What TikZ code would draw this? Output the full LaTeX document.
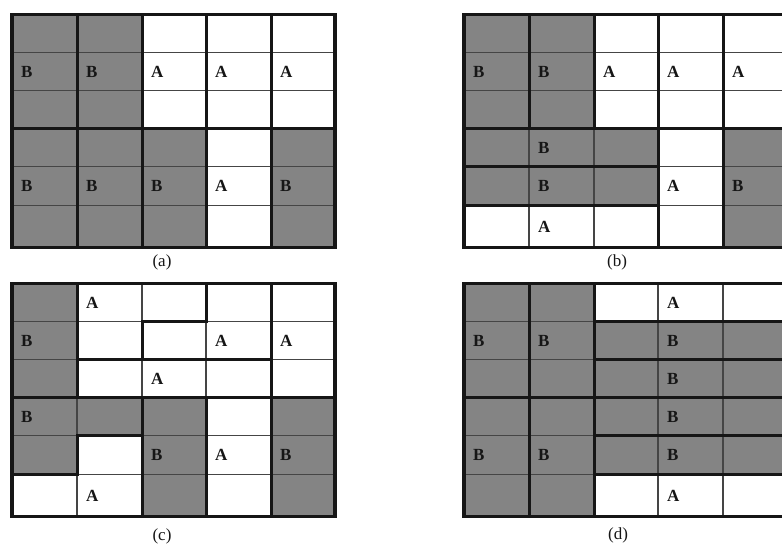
\documentclass[tikz,border=0pt]{standalone}
\usepackage{fontspec}
\setmainfont{Liberation Serif}
\definecolor{cellgray}{RGB}{132,132,132}
\definecolor{ink}{RGB}{22,22,22}
\tikzset{
  thinline/.style={draw=ink!80, line width=1.3pt},
  thickline/.style={draw=ink, line width=3pt, line cap=rect},
  border/.style={draw=ink, line width=3.5pt},
  lab/.style={anchor=west, font=\fontsize{17}{17}\selectfont\bfseries, inner sep=0pt, text=ink},
  captext/.style={font=\fontsize{17}{17}\selectfont, inner sep=0pt, text=ink},
}
\def\colx{{0,65,130,194,259,323}}
\def\rowy{{0,38,76,114,152,191,233}}
\def\rowm{{19,57,95,133,171.5,212}}
\newcommand\gfill[4]{\fill[cellgray] ({\colx[#1]},{\rowy[#2]}) rectangle ({\colx[#3]},{\rowy[#4]});}
\newcommand\hs[3]{\draw[thickline] ({\colx[#1]},{\rowy[#3]}) -- ({\colx[#2]},{\rowy[#3]});}
\newcommand\vs[3]{\draw[thickline] ({\colx[#1]},{\rowy[#2]}) -- ({\colx[#1]},{\rowy[#3]});}
\newcommand\thingrid{%
  \foreach \i in {1,...,4} {\draw[thinline] ({\colx[\i]},0) -- ({\colx[\i]},233);}
  \foreach \j in {1,...,5} {\draw[thinline] (0,{\rowy[\j]}) -- (323,{\rowy[\j]});}
}
\newcommand\frameborder{\draw[border] (0,0) rectangle (323,233);}
\newcommand\lbl[4]{\node[lab] (#1) at ({\colx[#2]+9},{\rowm[#3]}) {#4};}
\begin{document}
\begin{tikzpicture}[x=1pt,y=-1pt]
\useasboundingbox (0,0) rectangle (782,546);
\clip (0,0) rectangle (782,546);
\fill[white] (0,0) rectangle (782,546);

% ---------------- panel (a)
\begin{scope}[shift={(12,14.5)}]
  \gfill{0}{0}{2}{3} \gfill{0}{3}{3}{6} \gfill{4}{3}{5}{6}
  \thingrid
  \vs{1}{0}{6} \vs{2}{0}{6} \vs{3}{0}{6} \vs{4}{0}{6}
  \hs{0}{5}{3}
  \frameborder
  \lbl{a10}{0}{1}{B} \lbl{a11}{1}{1}{B} \lbl{a12}{2}{1}{A} \lbl{a13}{3}{1}{A} \lbl{a14}{4}{1}{A}
  \lbl{a40}{0}{4}{B} \lbl{a41}{1}{4}{B} \lbl{a42}{2}{4}{B} \lbl{a43}{3}{4}{A} \lbl{a44}{4}{4}{B}
\end{scope}
\node[captext] (capa) at (162,262) {(a)};

% ---------------- panel (b)
\begin{scope}[shift={(464,14.5)}]
  \gfill{0}{0}{2}{3} \gfill{0}{3}{3}{5} \gfill{4}{3}{5}{6}
  \thingrid
  \vs{1}{0}{3} \vs{2}{0}{3} \vs{3}{0}{6} \vs{4}{0}{6}
  \hs{0}{5}{3} \hs{0}{3}{4} \hs{0}{3}{5}
  \frameborder
  \lbl{b10}{0}{1}{B} \lbl{b11}{1}{1}{B} \lbl{b12}{2}{1}{A} \lbl{b13}{3}{1}{A} \lbl{b14}{4}{1}{A}
  \lbl{b31}{1}{3}{B} \lbl{b41}{1}{4}{B} \lbl{b43}{3}{4}{A} \lbl{b44}{4}{4}{B}
  \lbl{b51}{1}{5}{A}
\end{scope}
\node[captext] (capb) at (617,262) {(b)};

% ---------------- panel (c)
\begin{scope}[shift={(12,283.5)}]
  \gfill{0}{0}{1}{3} \gfill{0}{3}{2}{4} \gfill{0}{4}{1}{5} \gfill{2}{3}{3}{6} \gfill{4}{3}{5}{6}
  \thingrid
  \vs{1}{0}{3} \vs{1}{4}{5} \vs{2}{1}{2} \vs{2}{3}{6} \vs{3}{0}{1} \vs{3}{3}{6} \vs{4}{0}{6}
  \hs{2}{3}{1} \hs{1}{4}{2} \hs{0}{5}{3} \hs{1}{2}{4} \hs{0}{1}{5}
  \frameborder
  \lbl{c01}{1}{0}{A} \lbl{c10}{0}{1}{B} \lbl{c13}{3}{1}{A} \lbl{c14}{4}{1}{A}
  \lbl{c22}{2}{2}{A} \lbl{c30}{0}{3}{B} \lbl{c42}{2}{4}{B} \lbl{c43}{3}{4}{A}
  \lbl{c44}{4}{4}{B} \lbl{c51}{1}{5}{A}
\end{scope}
\node[captext] (capc) at (162,536) {(c)};

% ---------------- panel (d)
\begin{scope}[shift={(464,283.5)}]
  \gfill{0}{0}{2}{6} \gfill{2}{1}{5}{5}
  \thingrid
  \vs{1}{0}{6} \vs{2}{0}{6}
  \hs{2}{5}{1} \hs{2}{5}{2} \hs{0}{5}{3} \hs{2}{5}{4} \hs{2}{5}{5}
  \frameborder
  \lbl{d03}{3}{0}{A} \lbl{d10}{0}{1}{B} \lbl{d11}{1}{1}{B} \lbl{d13}{3}{1}{B}
  \lbl{d23}{3}{2}{B} \lbl{d33}{3}{3}{B} \lbl{d40}{0}{4}{B} \lbl{d41}{1}{4}{B}
  \lbl{d43}{3}{4}{B} \lbl{d53}{3}{5}{A}
\end{scope}
\node[captext] (capd) at (618,535) {(d)};
\end{tikzpicture}
\end{document}
